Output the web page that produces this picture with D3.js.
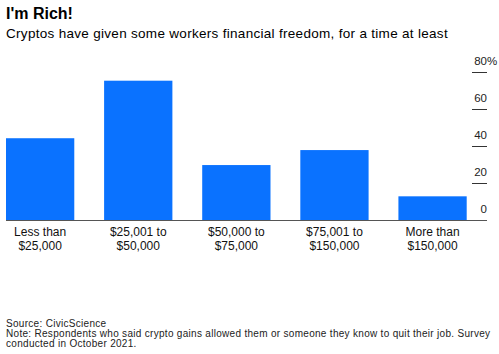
<!DOCTYPE html>
<html>
<head>
<meta charset="utf-8">
<script src="https://cdn.jsdelivr.net/npm/d3@7"></script>
<style>
    body { margin: 0; background: #fff; }
    svg { display: block; font-family: "Liberation Sans", Arial, sans-serif; }
</style>
</head>
<body>
<div id="chart-wrapper"></div>
<script>
(function (d3) {

    var categories = [
        ['Less than', '$25,000'],
        ['$25,001 to', '$50,000'],
        ['$50,000 to', '$75,000'],
        ['$75,001 to', '$150,000'],
        ['More than', '$150,000']
    ];
    var shares = [44.2, 75.3, 29.7, 37.8, 12.8];
    var yTicks = [0, 20, 40, 60, 80];

    var width = 499,
        height = 354;

    var svg = d3.select('#chart-wrapper')
        .append('svg')
        .attr('width', width)
        .attr('height', height);

    var xScale = d3.scaleBand()
        .domain(d3.range(categories.length))
        .range([6, 466.7])
        .paddingInner(0.304)
        .paddingOuter(0);

    var yScale = d3.scaleLinear()
        .domain([0, 80])
        .range([220, 72]);

    // titles
    svg.append('text')
        .attr('x', 6).attr('y', 18.5)
        .attr('font-size', 16).attr('font-weight', 'bold')
        .attr('fill', '#000')
        .text("I'm Rich!");

    svg.append('text')
        .attr('x', 6).attr('y', 37.5)
        .attr('font-size', 13.5)
        .attr('letter-spacing', 0.3)
        .attr('fill', '#000')
        .text('Cryptos have given some workers financial freedom, for a time at least');

    // bars
    svg.append('g')
        .selectAll('rect')
        .data(shares)
        .enter()
        .append('rect')
        .attr('x', function (d, i) { return xScale(i); })
        .attr('y', function (d) { return yScale(d); })
        .attr('width', xScale.bandwidth())
        .attr('height', function (d) { return yScale(0) - yScale(d); })
        .attr('fill', '#0a72ff');

    // baseline
    svg.append('line')
        .attr('x1', 6).attr('x2', 487)
        .attr('y1', yScale(0) + 0.5).attr('y2', yScale(0) + 0.5)
        .attr('stroke', '#555').attr('stroke-width', 1);

    // y axis on the right, labels sit above short tick marks
    var yAxis = svg.append('g');
    yTicks.forEach(function (t) {
        if (t > 0) {
            yAxis.append('line')
                .attr('x1', 472).attr('x2', 487)
                .attr('y1', yScale(t) + 0.5).attr('y2', yScale(t) + 0.5)
                .attr('stroke', '#333').attr('stroke-width', 1);
        }
        yAxis.append('text')
            .attr('x', 487)
            .attr('y', yScale(t) - 7)
            .attr('font-size', 11.5)
            .attr('fill', '#222')
            .attr('text-anchor', 'end')
            .text(t);
        if (t === 80) {
            yAxis.append('text')
                .attr('x', 487)
                .attr('y', yScale(t) - 7)
                .attr('font-size', 11.5)
                .attr('fill', '#222')
                .text('%');
        }
    });

    // category labels
    var xLabels = svg.append('g');
    categories.forEach(function (lines, i) {
        var t = xLabels.append('text')
            .attr('x', xScale(i) + xScale.bandwidth() / 2)
            .attr('y', 235.5)
            .attr('font-size', 12)
            .attr('fill', '#111')
            .attr('text-anchor', 'middle');
        lines.forEach(function (line, j) {
            t.append('tspan')
                .attr('x', xScale(i) + xScale.bandwidth() / 2)
                .attr('dy', j === 0 ? 0 : 14.5)
                .text(line);
        });
    });

    // footer
    var notes = [
        'Source: CivicScience',
        'Note: Respondents who said crypto gains allowed them or someone they know to quit their job. Survey',
        'conducted in October 2021.'
    ];
    svg.append('g')
        .selectAll('text')
        .data(notes)
        .enter()
        .append('text')
        .attr('x', 6)
        .attr('y', function (d, i) { return 326.5 + i * 10.2; })
        .attr('font-size', 10)
        .attr('letter-spacing', 0.3)
        .attr('fill', '#222')
        .text(function (d) { return d; });

})(d3);
</script>
</body>
</html>
